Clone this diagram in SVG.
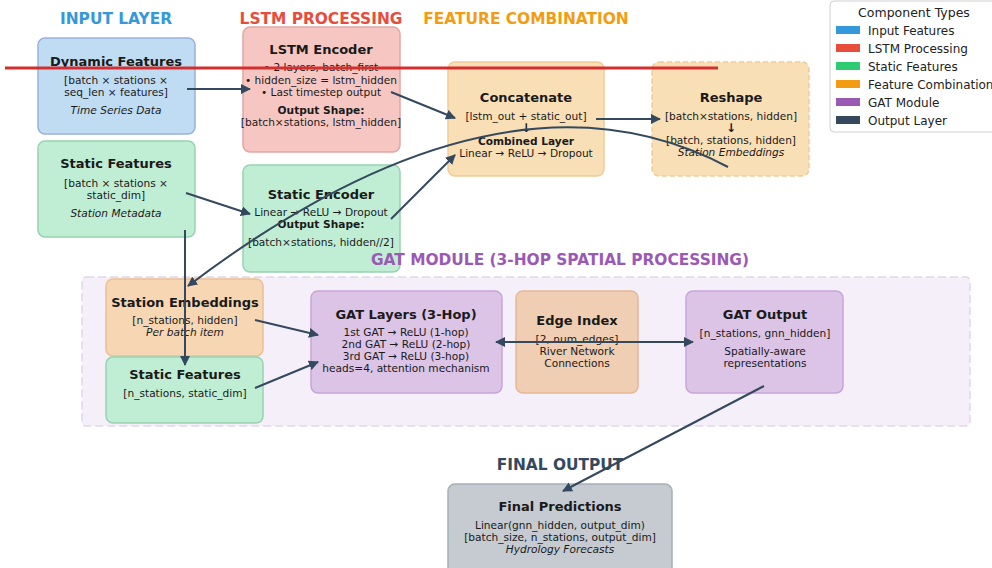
<svg xmlns="http://www.w3.org/2000/svg" width="992" height="568" viewBox="0 0 992 568">
<defs>
<style>
text{font-family:"DejaVu Sans","Liberation Sans",sans-serif;fill:#1a1a1a;text-anchor:middle}
.sec{font-size:15.4px;font-weight:bold}
.t{font-size:13px;font-weight:bold}
.b{font-size:10.6px}
.ar{font-size:12px;font-weight:bold}
.bb{font-size:10.6px;font-weight:bold}
.i{font-size:10.6px;font-style:italic}
.lg{font-size:12px;text-anchor:start;fill:#222}
.box{stroke-width:1.5}
.blue{fill:#c0dcf3;stroke:#9bb0dc}
.red{fill:#f6c7c2;stroke:#e2a6a2}
.green{fill:#c0eed5;stroke:#98d2b0}
.orange{fill:#f9dfb6;stroke:#f1cc96}
.peach{fill:#f7d6b3;stroke:#ecc090}
.edge{fill:#f0ceb3;stroke:#e5b896}
.purple{fill:#dcc4e6;stroke:#c8a5d8}
.gray{fill:#c5cbd0;stroke:#a7b0b6}
.c{fill:none;stroke:#34495e;stroke-width:2}
</style>
<marker id="ah" viewBox="0 0 10 10" refX="9" refY="5" markerWidth="5" markerHeight="5" orient="auto-start-reverse">
<path d="M0,0 L10,5 L0,10 z" fill="#34495e"/>
</marker>
</defs>
<rect width="992" height="568" fill="#ffffff"/>

<!-- GAT background -->
<g id="gat-module">
<rect x="82" y="277" width="888" height="149" rx="4" fill="#f4eff8" stroke="#e2d6ec" stroke-width="1.5" stroke-dasharray="8,4"/>
</g>

<!-- legend -->
<g id="legend">
<rect x="830" y="1" width="170" height="131" rx="4" fill="#ffffff" stroke="#d0d0d0" stroke-width="1"/>
<text x="914" y="17" style="font-size:12.5px;fill:#222">Component Types</text>
<rect x="836" y="26" width="24" height="8" fill="#3498db"/><text class="lg" x="868" y="35">Input Features</text>
<rect x="836" y="44" width="24" height="8" fill="#e74c3c"/><text class="lg" x="868" y="53">LSTM Processing</text>
<rect x="836" y="62" width="24" height="8" fill="#2ecc71"/><text class="lg" x="868" y="71">Static Features</text>
<rect x="836" y="80" width="24" height="8" fill="#f39c12"/><text class="lg" x="868" y="89">Feature Combination</text>
<rect x="836" y="98" width="24" height="8" fill="#9b59b6"/><text class="lg" x="868" y="107">GAT Module</text>
<rect x="836" y="116" width="24" height="8" fill="#34495e"/><text class="lg" x="868" y="125">Output Layer</text>
</g>

<g id="dynamic-features">
<rect class="box blue" x="38" y="38" width="157" height="96" rx="7"/>
<text class="t" x="116" y="66">Dynamic Features</text>
<text class="b" x="116" y="84">[batch × stations ×</text>
<text class="b" x="116" y="96">seq_len × features]</text>
<text class="i" x="116" y="114">Time Series Data</text>
</g>

<g id="static-features">
<rect class="box green" x="38" y="141" width="157" height="96" rx="7"/>
<text class="t" x="116" y="168">Static Features</text>
<text class="b" x="116" y="187">[batch × stations ×</text>
<text class="b" x="116" y="199">static_dim]</text>
<text class="i" x="116" y="217">Station Metadata</text>
</g>

<g id="lstm-encoder">
<rect class="box red" x="243" y="27" width="157" height="125" rx="7"/>
<text class="t" x="321" y="54">LSTM Encoder</text>
<text class="b" x="321" y="71">• 2 layers, batch_first</text>
<text class="b" x="321" y="84">• hidden_size = lstm_hidden</text>
<text class="b" x="321" y="96">• Last timestep output</text>
<text class="bb" x="321" y="114">Output Shape:</text>
<text class="b" x="321" y="126">[batch×stations, lstm_hidden]</text>
</g>

<g id="static-encoder">
<rect class="box green" x="243" y="165" width="157" height="107" rx="7"/>
<text class="t" x="321" y="199">Static Encoder</text>
<text class="b" x="321" y="216">Linear → ReLU → Dropout</text>
<text class="bb" x="321" y="228">Output Shape:</text>
<text class="b" x="321" y="246">[batch×stations, hidden//2]</text>
</g>

<g id="concatenate">
<rect class="box orange" x="448" y="62" width="156" height="114" rx="7"/>
<text class="t" x="526" y="102">Concatenate</text>
<text class="b" x="526" y="120">[lstm_out + static_out]</text>
<text class="ar" x="526" y="132">↓</text>
<text class="bb" x="526" y="145">Combined Layer</text>
<text class="b" x="526" y="157">Linear → ReLU → Dropout</text>
</g>

<g id="reshape">
<rect class="box orange" x="652" y="62" width="157" height="114" rx="7" stroke-dasharray="5,3"/>
<text class="t" x="731" y="102">Reshape</text>
<text class="b" x="731" y="120">[batch×stations, hidden]</text>
<text class="ar" x="731" y="132">↓</text>
<text class="b" x="731" y="144">[batch, stations, hidden]</text>
<text class="i" x="731" y="156">Station Embeddings</text>
</g>

<g id="station-embeddings">
<rect class="box peach" x="106" y="279" width="157" height="77" rx="7"/>
<text class="t" x="185" y="307">Station Embeddings</text>
<text class="b" x="185" y="324">[n_stations, hidden]</text>
<text class="i" x="185" y="336">Per batch item</text>
</g>

<g id="static-features-gat">
<rect class="box green" x="106" y="357" width="157" height="66" rx="7"/>
<text class="t" x="185" y="379">Static Features</text>
<text class="b" x="185" y="397">[n_stations, static_dim]</text>
</g>

<g id="gat-layers">
<rect class="box purple" x="311" y="291" width="191" height="102" rx="7"/>
<text class="t" x="406" y="319">GAT Layers (3-Hop)</text>
<text class="b" x="406" y="336">1st GAT → ReLU (1-hop)</text>
<text class="b" x="406" y="348">2nd GAT → ReLU (2-hop)</text>
<text class="b" x="406" y="360">3rd GAT → ReLU (3-hop)</text>
<text class="b" x="406" y="372">heads=4, attention mechanism</text>
</g>

<g id="edge-index">
<rect class="box edge" x="516" y="291" width="122" height="102" rx="7"/>
<text class="t" x="577" y="325">Edge Index</text>
<text class="b" x="577" y="343">[2, num_edges]</text>
<text class="b" x="577" y="355">River Network</text>
<text class="b" x="577" y="367">Connections</text>
</g>

<g id="gat-output">
<rect class="box purple" x="686" y="291" width="157" height="102" rx="7"/>
<text class="t" x="765" y="319">GAT Output</text>
<text class="b" x="765" y="337">[n_stations, gnn_hidden]</text>
<text class="b" x="765" y="355">Spatially-aware</text>
<text class="b" x="765" y="367">representations</text>
</g>

<g id="final-predictions">
<rect class="box gray" x="448" y="484" width="224" height="95" rx="7"/>
<text class="t" x="560" y="511">Final Predictions</text>
<text class="b" x="560" y="529">Linear(gnn_hidden, output_dim)</text>
<text class="b" x="560" y="541">[batch_size, n_stations, output_dim]</text>
<text class="i" x="560" y="553">Hydrology Forecasts</text>
</g>

<!-- section labels -->
<g id="section-labels">
<text class="sec" x="116" y="24" style="fill:#3498db">INPUT LAYER</text>
<text class="sec" x="321" y="24" style="fill:#e74c3c">LSTM PROCESSING</text>
<text class="sec" x="526" y="24" style="fill:#f39c12">FEATURE COMBINATION</text>
<text class="sec" x="560" y="265" style="fill:#9b59b6">GAT MODULE (3-HOP SPATIAL PROCESSING)</text>
<text class="sec" x="560" y="470" style="fill:#34495e">FINAL OUTPUT</text>
</g>

<g id="connectors">
<line class="c" x1="187" y1="89" x2="250" y2="89" marker-end="url(#ah)"/>
<line class="c" x1="186" y1="193" x2="250" y2="214" marker-end="url(#ah)"/>
<line class="c" x1="391" y1="92" x2="455" y2="118" marker-end="url(#ah)"/>
<line class="c" x1="391" y1="219" x2="455" y2="155" marker-end="url(#ah)"/>
<line class="c" x1="596" y1="119" x2="660" y2="119" marker-end="url(#ah)"/>
<path class="c" d="M728,167 Q502,48 188,286" marker-end="url(#ah)"/>
<line class="c" x1="185" y1="230" x2="185" y2="365" marker-end="url(#ah)"/>
<line class="c" x1="255" y1="320" x2="318" y2="335" marker-end="url(#ah)"/>
<line class="c" x1="255" y1="388" x2="318" y2="362" marker-end="url(#ah)"/>
<line class="c" x1="496" y1="342" x2="693" y2="342" marker-start="url(#ah)" marker-end="url(#ah)"/>
<line class="c" x1="764" y1="386" x2="563" y2="491" marker-end="url(#ah)"/>
</g>

<line x1="5" y1="68" x2="718" y2="68" stroke="#d32f2f" stroke-width="3"/>
</svg>
